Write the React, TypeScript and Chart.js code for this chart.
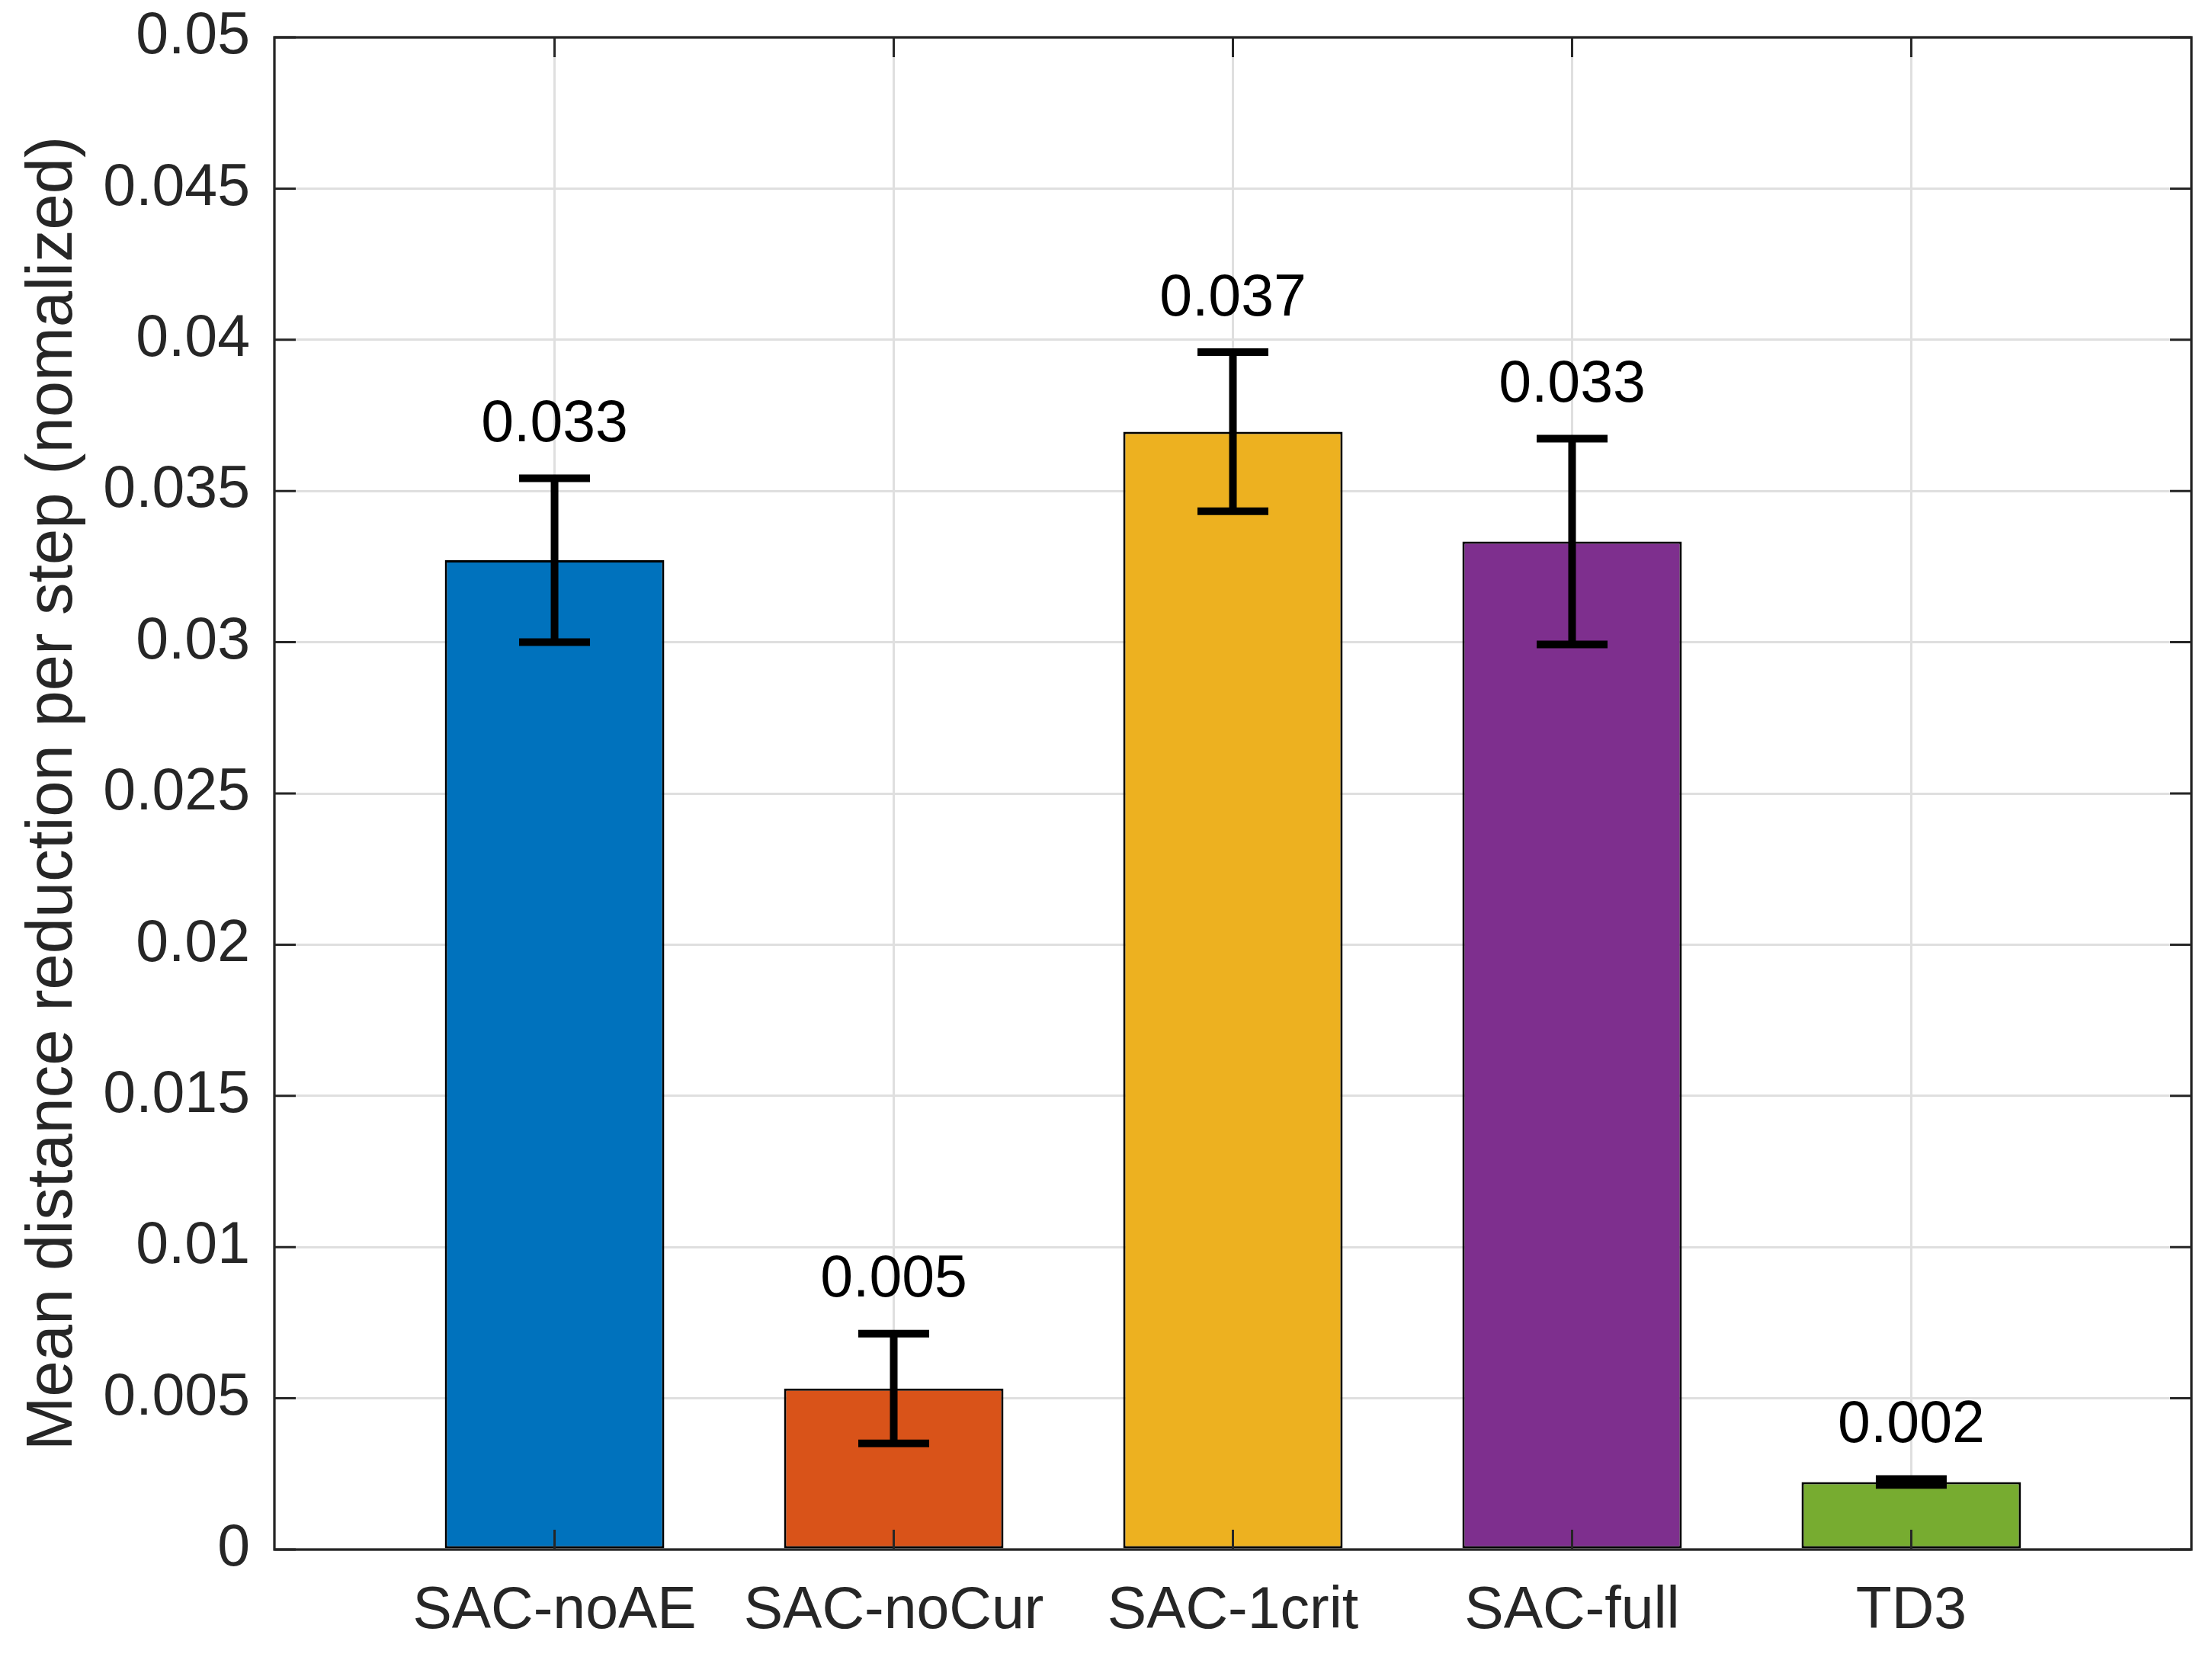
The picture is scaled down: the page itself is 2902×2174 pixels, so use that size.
import React, { useEffect, useRef } from "react";
import { Chart, registerables } from "chart.js";

Chart.register(...registerables);

// ---- data ----
const categories = ["SAC-noAE", "SAC-noCur", "SAC-1crit", "SAC-full", "TD3"];
const means = [0.03271, 0.005325, 0.03696, 0.03333, 0.002233];
const errors = [0.00271, 0.001815, 0.00263, 0.0034, 0.0001];
const barColors = ["#0072BD", "#D95319", "#EDB120", "#7E2F8E", "#77AC30"];
const yTickValues = [0, 0.005, 0.01, 0.015, 0.02, 0.025, 0.03, 0.035, 0.04, 0.045, 0.05];
const yTitle = "Mean distance reduction per step (nomalized)";

const FONT = "'Liberation Sans', Arial, Helvetica, sans-serif";
const AXIS_COLOR = "#262626";
const GRID_COLOR = "#dfdfdf";

const W = 2902;
const H = 2174;

const matlabPlugin = {
  id: "matlabAxes",
  afterDatasetsDraw(chart: any) {
    const { ctx, chartArea } = chart;
    const xs = chart.scales.x;
    const ys = chart.scales.y;
    const { left, right, top, bottom } = chartArea;
    ctx.save();
    // inward ticks
    ctx.strokeStyle = AXIS_COLOR;
    ctx.lineWidth = 3;
    ctx.beginPath();
    yTickValues.forEach((v) => {
      const py = ys.getPixelForValue(v);
      ctx.moveTo(left, py);
      ctx.lineTo(left + 28, py);
      ctx.moveTo(right, py);
      ctx.lineTo(right - 28, py);
    });
    categories.forEach((_, i) => {
      const px = xs.getPixelForValue(i + 1);
      ctx.moveTo(px, bottom);
      ctx.lineTo(px, bottom - 26);
      ctx.moveTo(px, top);
      ctx.lineTo(px, top + 26);
    });
    ctx.stroke();
    // box
    ctx.lineWidth = 3.3;
    ctx.strokeRect(left, top, right - left, bottom - top);

    // error bars
    ctx.strokeStyle = "#000000";
    ctx.lineWidth = 10;
    ctx.lineCap = "butt";
    const capHalf = 46.5;
    means.forEach((m, i) => {
      const px = xs.getPixelForValue(i + 1);
      const yt = ys.getPixelForValue(m + errors[i]);
      const yb = ys.getPixelForValue(m - errors[i]);
      ctx.beginPath();
      ctx.moveTo(px, yt);
      ctx.lineTo(px, yb);
      ctx.moveTo(px - capHalf, yt);
      ctx.lineTo(px + capHalf, yt);
      ctx.moveTo(px - capHalf, yb);
      ctx.lineTo(px + capHalf, yb);
      ctx.stroke();
    });

    // value labels
    ctx.fillStyle = "#000000";
    ctx.font = `77px ${FONT}`;
    ctx.textAlign = "center";
    ctx.textBaseline = "alphabetic";
    means.forEach((m, i) => {
      const px = xs.getPixelForValue(i + 1);
      const yt = ys.getPixelForValue(m + errors[i]);
      ctx.fillText(m.toFixed(3), px, yt - 48.5);
    });
    ctx.restore();
  },
};

export default function App() {
  const ref = useRef<HTMLCanvasElement | null>(null);

  useEffect(() => {
    if (!ref.current) return;
    const chart = new Chart(ref.current, {
      type: "bar",
      data: {
        datasets: [
          {
            data: means.map((v, i) => ({ x: i + 1, y: v })),
            backgroundColor: barColors,
            borderColor: "#000000",
            borderWidth: 3,
            borderSkipped: false,
            barPercentage: 0.647,
            categoryPercentage: 1,
          } as any,
        ],
      },
      options: {
        animation: false,
        responsive: false,
        devicePixelRatio: 1,
        layout: { padding: { left: 0, top: 49, right: 27, bottom: 0 } },
        plugins: {
          legend: { display: false },
          tooltip: { enabled: false },
        },
        scales: {
          x: {
            type: "linear",
            min: 0.174,
            max: 5.826,
            offset: false,
            afterBuildTicks: (s: any) => {
              s.ticks = categories.map((_, i) => ({ value: i + 1 }));
            },
            afterFit: (s: any) => {
              s.height = H - 2033;
              s.paddingLeft = 0;
              s.paddingRight = 0;
            },
            ticks: {
              autoSkip: false,
              maxRotation: 0,
              minRotation: 0,
              padding: 36,
              color: AXIS_COLOR,
              font: { size: 77, family: FONT, lineHeight: 1.2 },
              callback: (v: any) => categories[Math.round(Number(v)) - 1] ?? "",
            },
            grid: { color: GRID_COLOR, lineWidth: 3, drawTicks: false, offset: false },
            border: { display: false },
          },
          y: {
            type: "linear",
            min: 0,
            max: 0.05,
            afterBuildTicks: (s: any) => {
              s.ticks = yTickValues.map((v) => ({ value: v }));
            },
            afterFit: (s: any) => {
              s.width = 360;
              s.paddingTop = 0;
              s.paddingBottom = 0;
            },
            ticks: {
              padding: 32,
              color: AXIS_COLOR,
              font: { size: 77, family: FONT, lineHeight: 1.2 },
              callback: (v: any) => String(Number(Number(v).toFixed(3))),
            },
            grid: { color: GRID_COLOR, lineWidth: 3, drawTicks: false, offset: false },
            border: { display: false },
            title: {
              display: true,
              text: yTitle,
              color: AXIS_COLOR,
              font: { size: 85, family: FONT, lineHeight: 1.2 },
              padding: { top: 20, bottom: 0 },
            },
          },
        },
      },
      plugins: [matlabPlugin],
    } as any);
    return () => chart.destroy();
  }, []);

  return (
    <div style={{ position: "fixed", left: 0, top: 0, width: W, height: H, background: "#ffffff" }}>
      <canvas ref={ref} width={W} height={H} style={{ width: W, height: H, display: "block" }} />
    </div>
  );
}
